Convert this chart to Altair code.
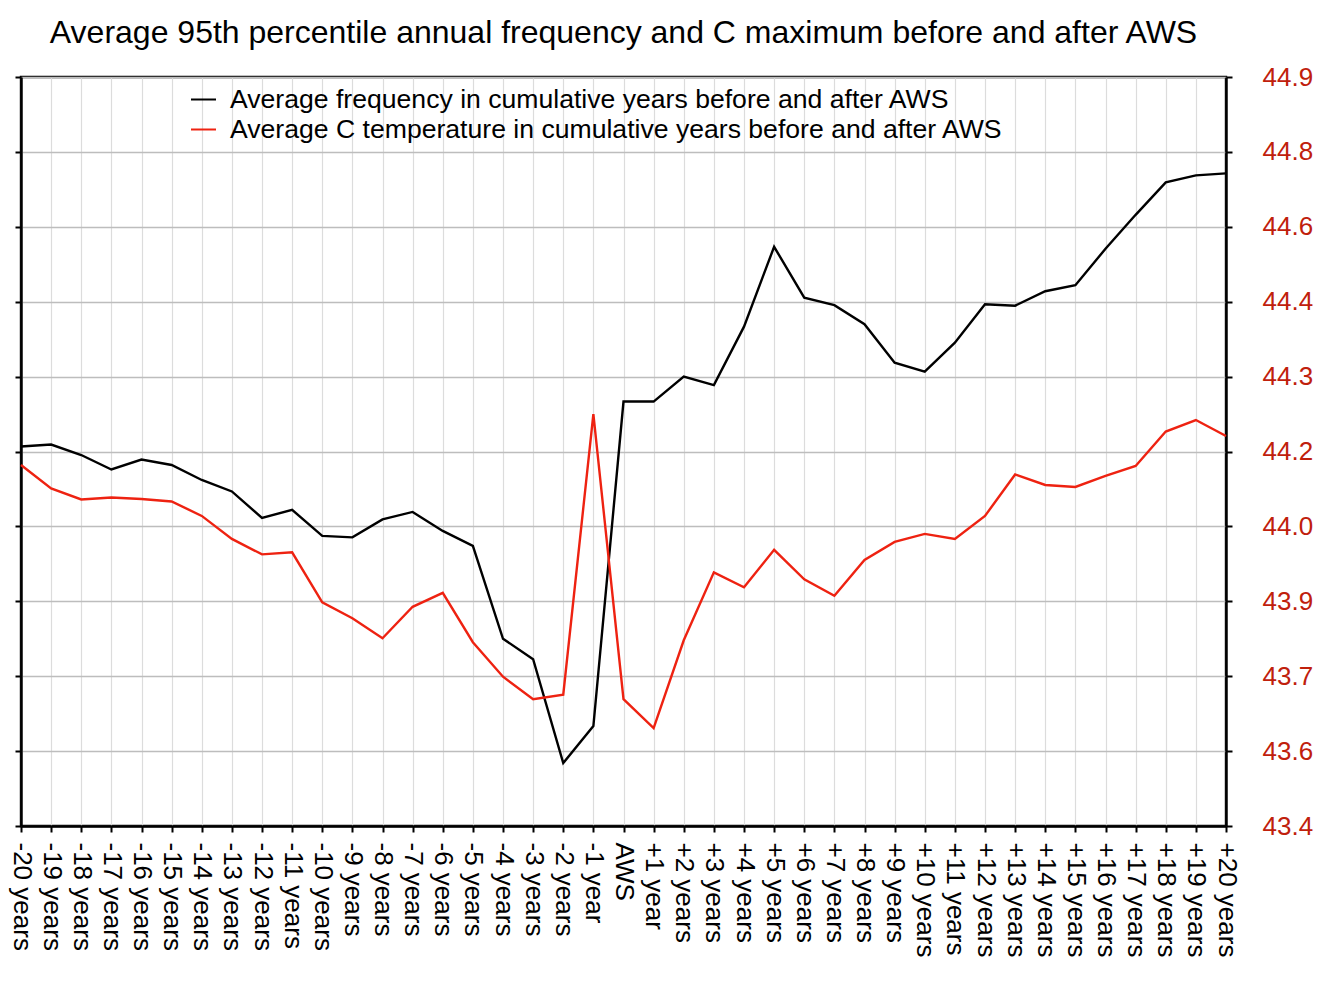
import json
import altair as alt
import pandas as pd

# ---- data ----
periods = (
    [f"-{n} years" for n in range(20, 1, -1)]
    + ["-1 year", "AWS", "+1 year"]
    + [f"+{n} years" for n in range(2, 21)]
)

# black series (left axis has no labels; values expressed in right-axis units)
freq = [44.160, 44.164, 44.143, 44.114, 44.134, 44.123, 44.093, 44.070, 44.017, 44.033,
        43.981, 43.978, 44.014, 44.029, 43.991, 43.961, 43.775, 43.734, 43.526, 43.600,
        44.250, 44.250, 44.300, 44.283, 44.400, 44.560, 44.458, 44.443, 44.405, 44.328,
        44.310, 44.368, 44.445, 44.442, 44.471, 44.483, 44.556, 44.624, 44.689, 44.703,
        44.707]

# red series (right axis)
temp = [44.123, 44.076, 44.054, 44.058, 44.055, 44.050, 44.021, 43.975, 43.944, 43.948,
        43.848, 43.816, 43.776, 43.839, 43.867, 43.768, 43.699, 43.654, 43.663, 44.225,
        43.654, 43.596, 43.772, 43.908, 43.878, 43.953, 43.894, 43.861, 43.933, 43.969,
        43.985, 43.975, 44.021, 44.104, 44.083, 44.079, 44.101, 44.121, 44.190, 44.213,
        44.181]

y_ticks = [43.4, 43.55, 43.7, 43.85, 44.0, 44.15, 44.3, 44.45, 44.6, 44.75, 44.9]
y_tick_labels = ["43.4", "43.6", "43.7", "43.9", "44.0", "44.2", "44.3", "44.4",
                 "44.6", "44.8", "44.9"]

series_names = [
    "Average frequency in cumulative years before and after AWS",
    "Average C temperature in cumulative years before and after AWS",
]
series_colors = ["#000000", "#ee2211"]

title_text = "Average 95th percentile annual frequency and C maximum before and after AWS"

# ---- build table ----
rows = []
for i, p in enumerate(periods):
    rows.append({"period": p, "idx": i, "value": freq[i], "series": series_names[0]})
for i, p in enumerate(periods):
    rows.append({"period": p, "idx": i, "value": temp[i], "series": series_names[1]})
df = pd.DataFrame(rows)

FONT = "Liberation Sans"

label_expr = (
    json.dumps(y_tick_labels)
    + "[indexof("
    + json.dumps(y_ticks)
    + ", datum.value)]"
)

x_enc = alt.X(
    "period:N",
    sort=periods,
    scale=alt.Scale(type="point", padding=0),
    axis=alt.Axis(
        title=None,
        labelAngle=90,
        labelFontSize=26,
        labelFont=FONT,
        labelColor="#000000",
        labelPadding=10,
        labelOverlap=False,
        grid=True,
        gridColor="#dcdcdc",
        gridWidth=1.2,
        tickSize=6,
    ),
)

y_scale = alt.Scale(domain=[43.4, 44.9], nice=False, zero=False)

color_enc = alt.Color(
    "series:N",
    scale=alt.Scale(domain=series_names, range=series_colors),
    legend=alt.Legend(
        title=None,
        orient="none",
        legendX=169,
        legendY=9,
        symbolType="stroke",
        symbolSize=625,
        symbolStrokeWidth=2,
        labelFontSize=26.6,
        labelFont=FONT,
        labelColor="#000000",
        labelOffset=13,
        rowPadding=2,
        padding=0,
        labelLimit=1000,
    ),
)

black = (
    alt.Chart(df)
    .transform_filter(alt.datum.series == series_names[0])
    .mark_line(strokeWidth=2.4)
    .encode(
        x=x_enc,
        y=alt.Y(
            "value:Q",
            scale=y_scale,
            axis=alt.Axis(
                orient="left",
                title=None,
                values=y_ticks,
                labels=False,
                grid=True,
                gridColor="#bdbdbd",
                gridWidth=1.3,
                tickSize=6,
            ),
        ),
        color=color_enc,
        order="idx:Q",
    )
)

red = (
    alt.Chart(df)
    .transform_filter(alt.datum.series == series_names[1])
    .mark_line(strokeWidth=2.4)
    .encode(
        x=x_enc,
        y=alt.Y(
            "value:Q",
            scale=y_scale,
            axis=alt.Axis(
                orient="right",
                title=None,
                values=y_ticks,
                labelExpr=label_expr,
                labelFontSize=26,
                labelFont=FONT,
                labelColor="#c0200c",
                labelPadding=30,
                grid=False,
                tickSize=6,
            ),
        ),
        color=color_enc,
        order="idx:Q",
    )
)

chart = (
    alt.layer(black, red)
    .resolve_scale(y="shared", color="shared")
    .resolve_axis(y="independent")
    .properties(
        width=1205,
        height=749,
        title=alt.TitleParams(
            text=title_text,
            fontSize=32,
            font=FONT,
            fontWeight="normal",
            color="#000000",
            anchor="middle",
            offset=14,
        ),
        autosize=alt.AutoSizeParams(type="none"),
        padding={"left": 13, "top": 69, "right": 88, "bottom": 140},
    )
    .configure_view(stroke="#000000", strokeWidth=2.4)
    .configure_axis(
        domainColor="#000000",
        domainWidth=2.4,
        tickColor="#000000",
        tickWidth=2,
    )
)

chart.save("out.html", embed_options={"renderer": "svg", "actions": False})
